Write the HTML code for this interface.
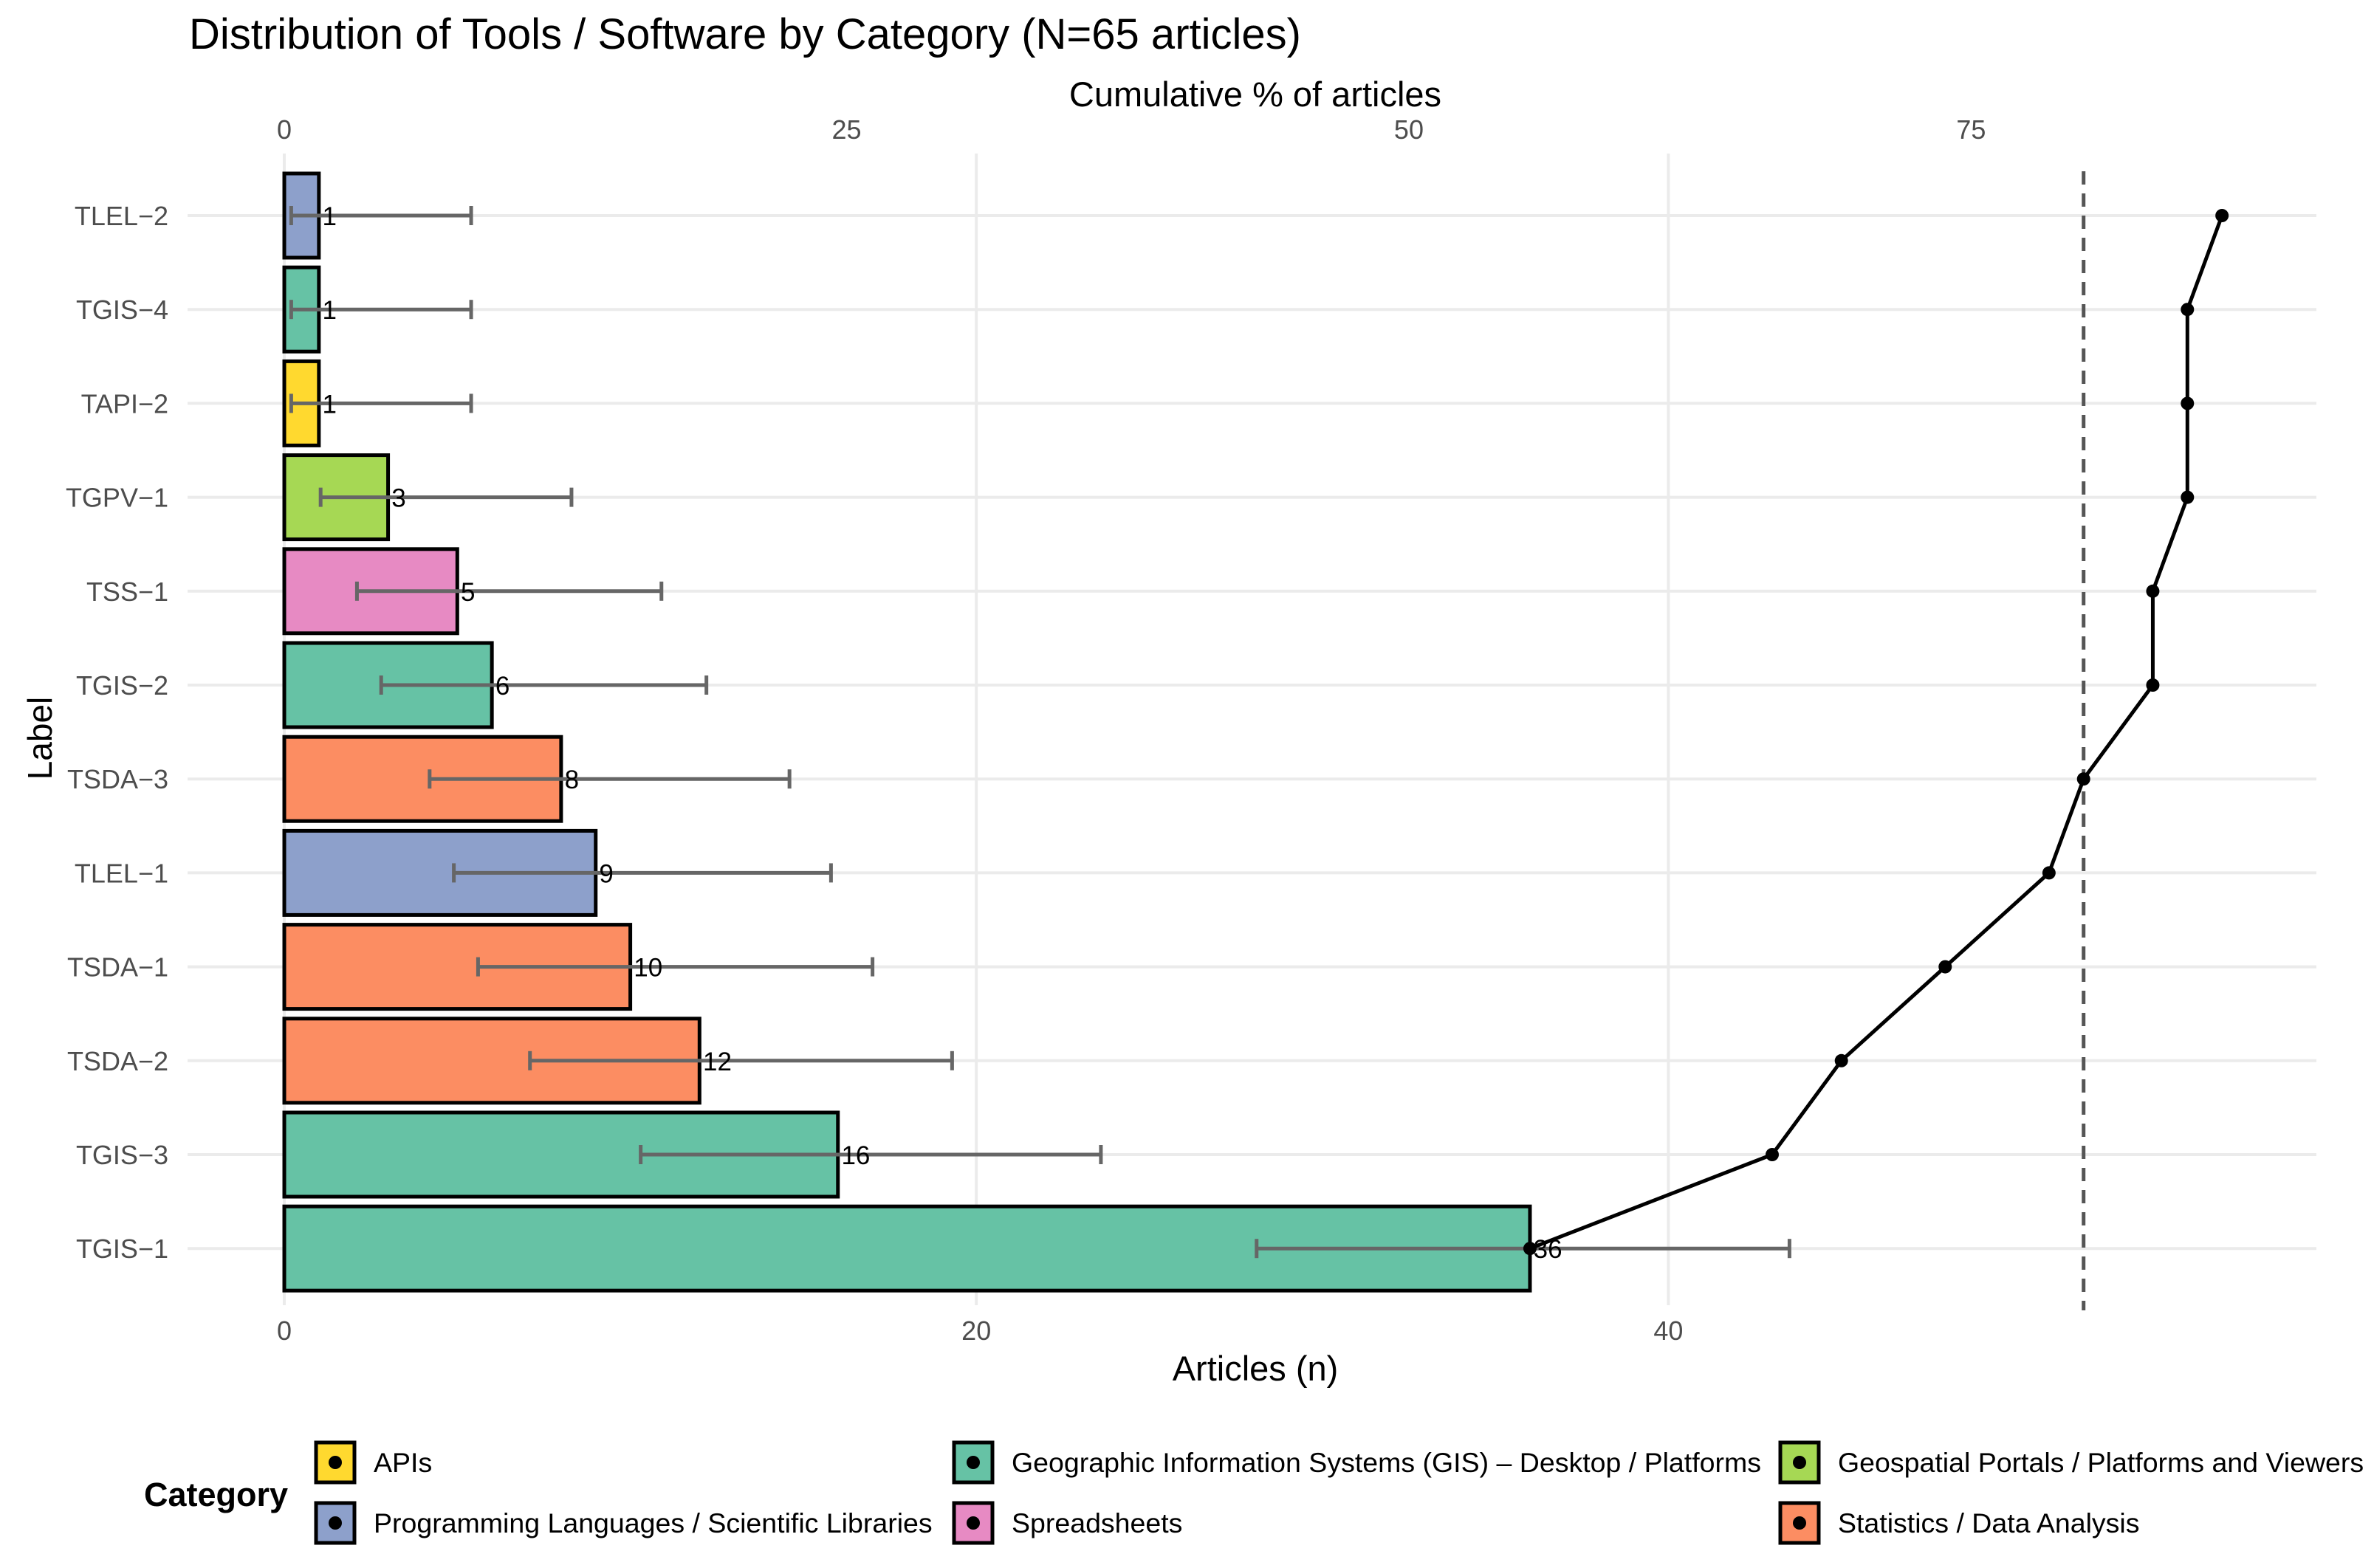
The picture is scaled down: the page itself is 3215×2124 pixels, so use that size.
<!DOCTYPE html>
<html><head><meta charset="utf-8"><style>
html,body{margin:0;padding:0;background:#fff}
svg{display:block;font-family:"Liberation Sans",Arial,sans-serif}
</style></head><body>
<svg id="chart" width="3215" height="2124" viewBox="0 0 3215 2124">
<text x="256" y="66" font-size="58" fill="#000">Distribution of Tools / Software by Category (N=65 articles)</text>
<text x="1700" y="144" font-size="47" text-anchor="middle" fill="#000">Cumulative % of articles</text>
<text x="1700" y="1870" font-size="47" text-anchor="middle" fill="#000">Articles (n)</text>
<text transform="translate(70,1000) rotate(-90)" font-size="46" text-anchor="middle" fill="#000">Label</text>
<g id="grid"></g><g id="marks"></g><g id="legend"></g>
</svg>
<script>
const labels=["TLEL−2","TGIS−4","TAPI−2","TGPV−1","TSS−1","TGIS−2","TSDA−3","TLEL−1","TSDA−1","TSDA−2","TGIS−3","TGIS−1"];
const counts=[1,1,1,3,5,6,8,9,10,12,16,36];
const cats=["lang","gis","api","portal","ss","gis","stat","lang","stat","stat","gis","gis"];
const ciLow=[0.2,0.2,0.2,1.05,2.1,2.8,4.2,4.9,5.6,7.1,10.3,28.1];
const ciHigh=[5.4,5.4,5.4,8.3,10.9,12.2,14.6,15.8,17.0,19.3,23.6,43.5];
const cumArticles=[56,55,55,55,54,54,52,51,48,45,43,36];
const N=65;
const xTicks=[0,20,40];
const topTicks=[0,25,50,75];
const threshold=80;
const colors={api:"#FFD92F",gis:"#66C2A5",portal:"#A6D854",lang:"#8DA0CB",ss:"#E78AC3",stat:"#FC8D62"};
const legendItems=[["api","APIs"],["gis","Geographic Information Systems (GIS) – Desktop / Platforms"],["portal","Geospatial Portals / Platforms and Viewers"],["lang","Programming Languages / Scientific Libraries"],["ss","Spreadsheets"],["stat","Statistics / Data Analysis"]];
const NS="http://www.w3.org/2000/svg";
const X=v=>385+v*46.86;
const P=p=>X(p/100*N);
const Y=i=>292+i*127.2;
function mk(tag,at,parent,txt){const e=document.createElementNS(NS,tag);for(const k in at)e.setAttribute(k,at[k]);if(txt!==undefined)e.textContent=txt;parent.appendChild(e);return e;}
const grid=document.getElementById('grid'),marks=document.getElementById('marks'),leg=document.getElementById('legend');
xTicks.forEach(t=>{
 const l=mk('line',{x1:X(t),x2:X(t),y1:208,y2:1768,stroke:"#ebebeb","stroke-width":4},grid);
 
 
 const tx=mk('text',{x:X(t),y:1815,"font-size":36,"text-anchor":"middle",fill:"#4d4d4d"},grid,t);
 
 
});
topTicks.forEach(t=>{
 const tx=mk('text',{x:P(t),y:188,"font-size":36,"text-anchor":"middle",fill:"#4d4d4d"},grid,t);
 
 
});
labels.forEach((lab,i)=>{
 const l=mk('line',{x1:254,x2:3137,y1:Y(i),y2:Y(i),stroke:"#ebebeb","stroke-width":4},grid);
 
 
 const tx=mk('text',{x:228,y:Y(i)+13,"font-size":36,"text-anchor":"end",fill:"#4d4d4d"},grid,lab);
 
 
});
labels.forEach((lab,i)=>{
 const r=mk('rect',{x:X(0),y:Y(i)-57,width:X(counts[i])-X(0),height:114,fill:colors[cats[i]],stroke:"#000","stroke-width":5},marks);
 
 
});
labels.forEach((lab,i)=>{
 const g=mk('g',{stroke:"#666","stroke-width":5},marks);
 
 
 mk('line',{x1:X(ciLow[i]),x2:X(ciHigh[i]),y1:Y(i),y2:Y(i)},g);
 mk('line',{x1:X(ciLow[i]),x2:X(ciLow[i]),y1:Y(i)-13,y2:Y(i)+13},g);
 mk('line',{x1:X(ciHigh[i]),x2:X(ciHigh[i]),y1:Y(i)-13,y2:Y(i)+13},g);
 const tx=mk('text',{x:X(counts[i]+0.1),y:Y(i)+13,"font-size":35,fill:"#000"},marks,counts[i]);
 
 
});
const dl=mk('line',{x1:P(threshold),x2:P(threshold),y1:232,y2:1775,stroke:"#555","stroke-width":5,"stroke-dasharray":"18 12"},marks);


const pts=cumArticles.map((c,i)=>P(c/N*100)+","+Y(i)).join(" ");
const pl=mk('polyline',{points:pts,fill:"none",stroke:"#000","stroke-width":5},marks);


cumArticles.forEach((c,i)=>{
 const d=mk('circle',{cx:P(c/N*100),cy:Y(i),r:9,fill:"#000"},marks);
 
 
});
const lt=mk('text',{x:195,y:2040,"font-size":45,"font-weight":"bold",fill:"#000"},leg,"Category");


const colX=[428,1292,2411];
legendItems.forEach((it,k)=>{
 const cx=colX[k%3],cy=k<3?1981:2063;
 const g=mk('g',{},leg);
 
 
 mk('rect',{x:cx,y:cy-27,width:52,height:54,fill:colors[it[0]],stroke:"#000","stroke-width":5},g);
 mk('circle',{cx:cx+26,cy:cy,r:9,fill:"#000"},g);
 mk('text',{x:cx+78,y:cy+13,"font-size":37.5,fill:"#000"},g,it[1]);
});
</script>
</body></html>
